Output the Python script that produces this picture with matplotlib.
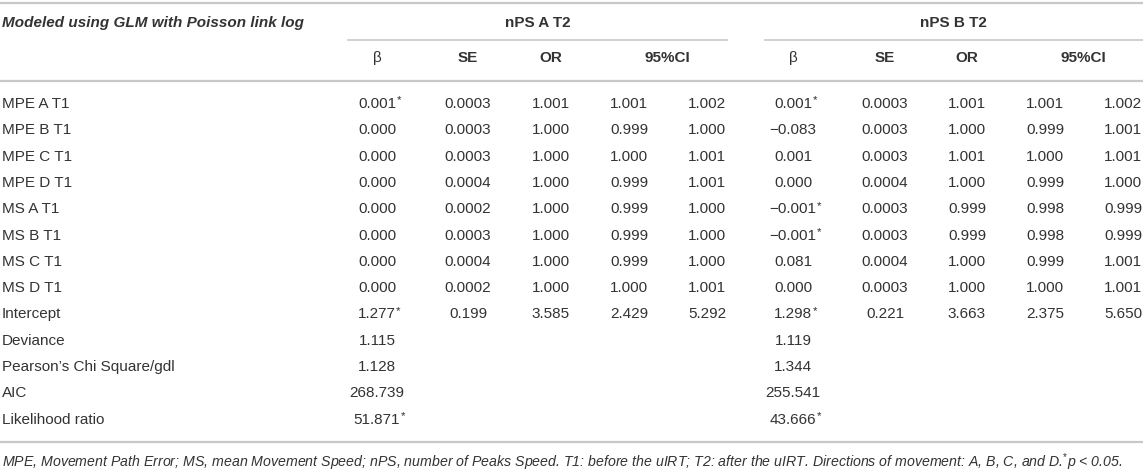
import matplotlib
matplotlib.use("Agg")
import matplotlib.pyplot as plt

plt.rcParams['font.family'] = ['Liberation Sans', 'DejaVu Sans']
plt.rcParams['mathtext.fontset'] = 'custom'
plt.rcParams['mathtext.rm'] = 'Liberation Sans'
plt.rcParams['mathtext.it'] = 'Liberation Sans:italic'

title_left = "Modeled using GLM with Poisson link log"
groups = ["nPS A T2", "nPS B T2"]
subheads = ["β", "SE", "OR", "95%CI"]

row_labels = ["MPE A T1", "MPE B T1", "MPE C T1", "MPE D T1",
              "MS A T1", "MS B T1", "MS C T1", "MS D T1", "Intercept",
              "Deviance", "Pearson’s Chi Square/gdl", "AIC", "Likelihood ratio"]

a_beta = ["0.001*", "0.000", "0.000", "0.000", "0.000", "0.000", "0.000", "0.000",
          "1.277*", "1.115", "1.128", "268.739", "51.871*"]
a_se = ["0.0003", "0.0003", "0.0003", "0.0004", "0.0002", "0.0003", "0.0004", "0.0002", "0.199"]
a_or = ["1.001", "1.000", "1.000", "1.000", "1.000", "1.000", "1.000", "1.000", "3.585"]
a_lo = ["1.001", "0.999", "1.000", "0.999", "0.999", "0.999", "0.999", "1.000", "2.429"]
a_hi = ["1.002", "1.000", "1.001", "1.001", "1.000", "1.000", "1.000", "1.001", "5.292"]

b_beta = ["0.001*", "−0.083", "0.001", "0.000", "−0.001*", "−0.001*", "0.081", "0.000",
          "1.298*", "1.119", "1.344", "255.541", "43.666*"]
b_se = ["0.0003", "0.0003", "0.0003", "0.0004", "0.0003", "0.0003", "0.0004", "0.0003", "0.221"]
b_or = ["1.001", "1.000", "1.001", "1.000", "0.999", "0.999", "1.000", "1.000", "3.663"]
b_lo = ["1.001", "0.999", "1.000", "0.999", "0.998", "0.998", "0.999", "1.000", "2.375"]
b_hi = ["1.002", "1.001", "1.001", "1.000", "0.999", "0.999", "1.001", "1.001", "5.650"]

footnote = ("MPE, Movement Path Error; MS, mean Movement Speed; nPS, number of Peaks Speed. "
            "T1: before the uIRT; T2: after the uIRT. Directions of movement: A, B, C, and D.$^{*}$p < 0.05.")

W, H = 1143, 471
fig = plt.figure(figsize=(W / 100, H / 100), dpi=100)
ax = fig.add_axes([0, 0, 1, 1])
ax.set_xlim(0, W)
ax.set_ylim(H, 0)
ax.axis('off')

txt = '#333333'
line_c = '#c8c8c8'
fs = 11.0

# lines
ax.plot([0, W], [3, 3], color=line_c, lw=1.6)
ax.plot([348, 727], [39.5, 39.5], color=line_c, lw=1.2)
ax.plot([765, W], [39.5, 39.5], color=line_c, lw=1.2)
ax.plot([0, W], [81, 81], color=line_c, lw=1.6)
ax.plot([0, W], [442, 442], color=line_c, lw=1.6)

# headers
ax.text(2, 23, title_left, ha='left', va='center', fontsize=fs, color=txt,
        fontweight='bold', fontstyle='italic')
group_x = [538, 953]
for g, gx in zip(groups, group_x):
    ax.text(gx, 23, g, ha='center', va='center', fontsize=fs, color=txt, fontweight='bold')

sub_x = [[377, 468, 551, 667], [793, 885, 967, 1083]]
for xs in sub_x:
    for s, sx in zip(subheads, xs):
        ax.text(sx, 58, s, ha='center', va='center', fontsize=fs, color=txt,
                fontweight='normal' if s == "β" else 'bold')

# body
row_y0, row_dy = 104, 26.3
col_x = [[377, 468, 551, 629, 707], [793, 885, 967, 1045, 1123]]
cols = [[a_beta, a_se, a_or, a_lo, a_hi], [b_beta, b_se, b_or, b_lo, b_hi]]


def draw_val(x, y, s):
    if s.endswith('*'):
        base = s[:-1]
        t = ax.text(x, y, base, ha='center', va='center', fontsize=fs, color=txt)
        fig.canvas.draw()
        bb = t.get_window_extent()
        inv = ax.transData.inverted()
        xr = inv.transform((bb.x1, bb.y1))[0]
        ax.text(xr + 0.3, y - 3.5, '*', ha='left', va='center', fontsize=fs * 0.75, color=txt)
    else:
        ax.text(x, y, s, ha='center', va='center', fontsize=fs, color=txt)


for i, lab in enumerate(row_labels):
    y = row_y0 + i * row_dy
    ax.text(2, y, lab, ha='left', va='center', fontsize=fs, color=txt)
    for xs, cset in zip(col_x, cols):
        for x, c in zip(xs, cset):
            if i < len(c):
                draw_val(x, y, c[i])

ax.text(2, 462, footnote, ha='left', va='center', fontsize=10.2, color=txt,
        fontstyle='italic')

fig.savefig('out.png', dpi=100)
